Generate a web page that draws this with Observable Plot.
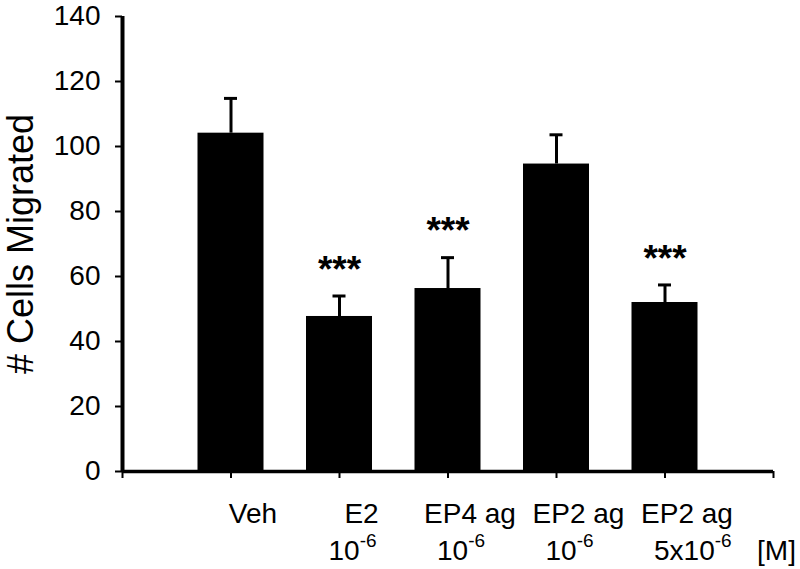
<!DOCTYPE html>
<html>
<head>
<meta charset="utf-8">
<script src="https://cdn.jsdelivr.net/npm/d3@7"></script>
<script src="https://cdn.jsdelivr.net/npm/@observablehq/plot@0.6"></script>
<style>
  html, body { margin: 0; padding: 0; background: #fff; }
</style>
</head>
<body>
<div id="chart"></div>
<script>
// ---- data ----
const names = ["Veh", "E2", "EP4 ag", "EP2 ag", "EP2 ag"];
const doses = ["", "10^-6", "10^-6", "10^-6", "5x10^-6"];
const unit = "[M]";
const means = [104.1, 47.7, 56.3, 94.6, 52.0];
const errors = [10.7, 6.3, 9.5, 9.0, 5.4];
const significance = ["", "***", "***", "", "***"];
const yTicks = [0, 20, 40, 60, 80, 100, 120, 140];
const xTicks = [0, 1, 2, 3, 4, 5, 6];
const yTitle = "# Cells Migrated";

const data = names.map((n, i) => ({
  pos: xTicks[i + 1], name: n, dose: doses[i],
  mean: means[i], top: means[i] + errors[i], sig: significance[i]
}));
const unitData = [{pos: xTicks[xTicks.length - 1], text: unit}];

const fam = "'Liberation Sans', Arial, Helvetica, sans-serif";

const chart = Plot.plot({
  width: 800,
  height: 569,
  marginLeft: 122,
  marginRight: 27,
  marginTop: 16,
  marginBottom: 98,
  style: {fontFamily: fam, background: "#fff", color: "#000", overflow: "visible"},
  x: {domain: [xTicks[0], xTicks[xTicks.length - 1]]},
  y: {domain: [yTicks[0], yTicks[yTicks.length - 1]]},
  marks: [
    // bars
    Plot.rectY(data, {x1: "pos", x2: "pos", y: "mean", insetLeft: -33, insetRight: -33, fill: "#000"}),
    // error bars (upper only)
    Plot.ruleX(data, {x: "pos", y1: "mean", y2: "top", stroke: "#000", strokeWidth: 3}),
    Plot.ruleY(data, {y: "top", x1: "pos", x2: "pos", insetLeft: -6.5, insetRight: -6.5, stroke: "#000", strokeWidth: 3}),
    // significance stars
    Plot.text(data.filter(d => d.sig), {x: "pos", y: "top", text: "sig", fontSize: 37, fontWeight: "bold", dy: -26, fill: "#000",
      textAnchor: "middle", lineAnchor: "middle"}),
    // axes
    Plot.axisY({ticks: yTicks, tickSize: 7, tickPadding: 15, fontSize: 28, label: null, stroke: "#000", strokeWidth: 2, fill: "#000"}),
    Plot.axisX({ticks: xTicks, tickSize: 7, tickFormat: () => "", label: null, stroke: "#000", strokeWidth: 2}),
    Plot.ruleX([xTicks[0]], {stroke: "#000", strokeWidth: 4}),
    Plot.ruleY([yTicks[0]], {stroke: "#000", strokeWidth: 3.5}),
    // category labels
    Plot.text(data, {x: "pos", text: "name", frameAnchor: "bottom", textAnchor: "middle", lineAnchor: "middle",
      dx: 22, dy: 43, fontSize: 28, fill: "#000"}),
    Plot.text(data, {x: "pos", text: "dose", frameAnchor: "bottom", textAnchor: "start", lineAnchor: "middle",
      dx: -11, dy: 80, fontSize: 28, fill: "#000"}),
    Plot.text(unitData, {x: "pos", text: "text", frameAnchor: "bottom", textAnchor: "middle", lineAnchor: "middle",
      dx: 3, dy: 80, fontSize: 28, fill: "#000"}),
    // y title
    Plot.text([yTitle], {frameAnchor: "left", rotate: -90, textAnchor: "middle", lineAnchor: "middle",
      dx: -101.5, fontSize: 36, fill: "#000"})
  ]
});

// superscripts for "10^-6"
d3.select(chart).selectAll("text, tspan").each(function () {
  if (this.childElementCount !== 0) return;
  const t = this.textContent;
  if (!t.includes("^")) return;
  const [base, sup] = t.split("^");
  this.textContent = base;
  const s = document.createElementNS("http://www.w3.org/2000/svg", "tspan");
  s.setAttribute("dy", "-13");
  s.setAttribute("font-size", "19");
  s.textContent = sup;
  this.appendChild(s);
});

document.getElementById("chart").appendChild(chart);
</script>
</body>
</html>
